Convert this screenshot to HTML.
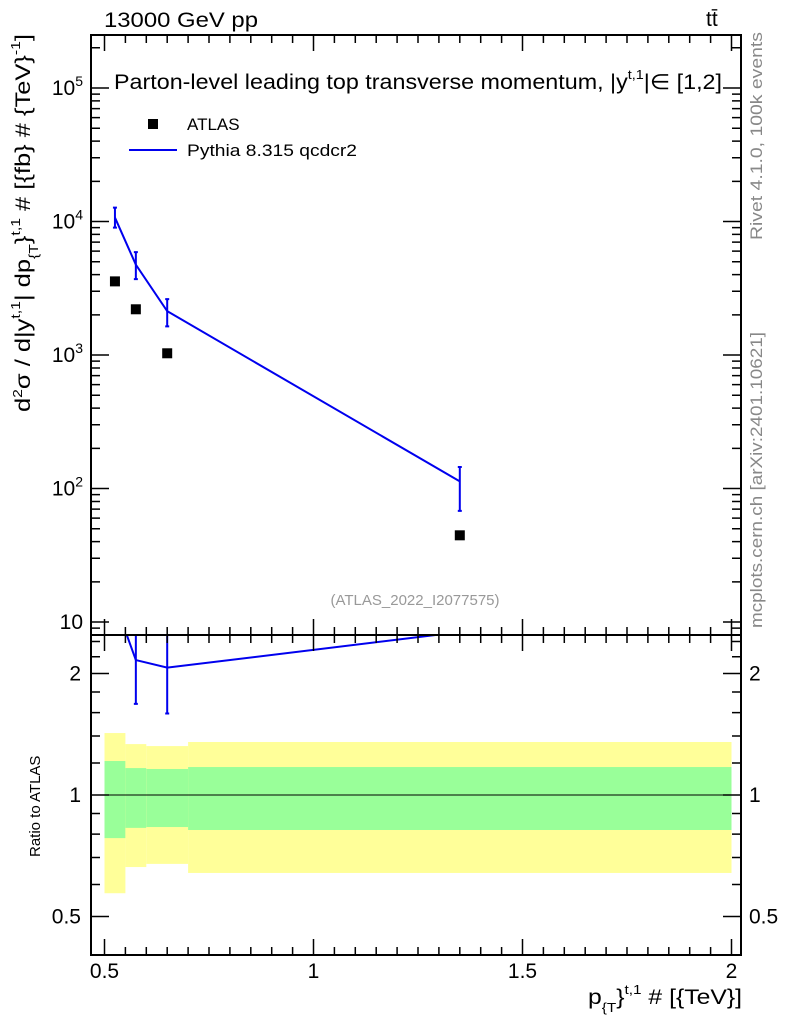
<!DOCTYPE html>
<html><head><meta charset="utf-8"><style>
body{margin:0;background:#fff;}
svg{display:block;font-family:"Liberation Sans",sans-serif;}
</style></head><body>
<svg id="c" width="786" height="1024"></svg>
<script>
const xEdges=[0.5,0.55,0.6,0.7,2.0];
const xCenters=[0.525,0.575,0.65,1.35];
const dataVals=[3560,2200,1030,44.6];
const mcVals=[10700,4750,2130,113];
const mcUp=[12700,5900,2620,145];
const mcDn=[9000,3700,1640,68];
const yellowHi=[1.424,1.337,1.322,1.353];
const yellowLo=[0.571,0.663,0.675,0.641];
const greenHi=[1.214,1.166,1.160,1.173];
const greenLo=[0.782,0.829,0.833,0.819];
const xTicks=[0.5,1,1.5,2];
const xTickLabels=["0.5","1","1.5","2"];
const yDecades=[1,2,3,4,5];
const rTicks=[0.5,1,2];
const rTickLabels=["0.5","1","2"];

const NS="http://www.w3.org/2000/svg";
const svg=document.getElementById('c');
const L=91,R=741,T=35,MB=635,RB=955;
const X=v=>104.5+(v-0.5)*418;
const Y=v=>88+(5-Math.log10(v))*133.5;
const RY=v=>795-Math.log2(v)*121.5;
function el(tag,a,parent){const e=document.createElementNS(NS,tag);for(const k in a)e.setAttribute(k,a[k]);(parent||svg).appendChild(e);return e;}
function txt(s,a,parent){const e=el('text',a,parent);e.textContent=s;return e;}

const clipR=el('clipPath',{id:'cr'});el('rect',{x:L,y:MB,width:R-L,height:RB-MB},clipR);
const clipM=el('clipPath',{id:'cm'});el('rect',{x:L,y:T,width:R-L,height:MB-T},clipM);
for(let i=0;i<xCenters.length;i++){
  const x0=X(xEdges[i]),x1=X(xEdges[i+1]);
  const y=el('rect',{x:x0,y:RY(yellowHi[i]),width:x1-x0,height:RY(yellowLo[i])-RY(yellowHi[i]),fill:'#ffff99'});
  
  
  const g=el('rect',{x:x0,y:RY(greenHi[i]),width:x1-x0,height:RY(greenLo[i])-RY(greenHi[i]),fill:'#99ff99'});
  
  
}
el('line',{x1:L,x2:R,y1:RY(1),y2:RY(1),stroke:'#000','stroke-width':1});

const gm=el('g',{'clip-path':'url(#cm)'});
const ml=el('polyline',{points:xCenters.map((x,i)=>X(x)+','+Y(mcVals[i])).join(' '),fill:'none',stroke:'#0000ee','stroke-width':2},gm);


for(let i=0;i<xCenters.length;i++){
  const x=X(xCenters[i]);
  const e=el('path',{d:`M${x},${Y(mcUp[i])}V${Y(mcDn[i])}M${x-2},${Y(mcUp[i])}h4M${x-2},${Y(mcDn[i])}h4`,stroke:'#0000ee','stroke-width':2,fill:'none'},gm);
  
  
  const d=el('rect',{x:X(xCenters[i])-5,y:Y(dataVals[i])-5,width:10,height:10,fill:'#000'},gm);
  
  
}
const gr=el('g',{'clip-path':'url(#cr)'});
const rl=el('polyline',{points:xCenters.map((x,i)=>X(x)+','+RY(mcVals[i]/dataVals[i])).join(' '),fill:'none',stroke:'#0000ee','stroke-width':2},gr);


for(let i=0;i<xCenters.length;i++){
  const c=RY(mcVals[i]/dataVals[i]);
  if(c<MB||c>RB)continue;
  const x=X(xCenters[i]),a=RY(mcUp[i]/dataVals[i]),b=RY(mcDn[i]/dataVals[i]);
  const e=el('path',{d:`M${x},${a}V${b}M${x-2},${b}h4`,stroke:'#0000ee','stroke-width':2,fill:'none'},gr);
  
  
}

el('rect',{x:L,y:T,width:R-L,height:RB-T,fill:'none',stroke:'#000','stroke-width':2});
el('line',{x1:L,x2:R,y1:MB,y2:MB,stroke:'#000','stroke-width':2});
let tp='';
for(let k=0;k<=30;k++){const v=0.5+k*0.05;const x=X(v);const l=(k%10==0)?16:8;
  tp+=`M${x},${T}v${l}M${x},${MB}v${-l}M${x},${MB}v${l}M${x},${RB}v${-l}`;}
for(let d=0;d<=5;d++)for(let m=1;m<10;m++){const v=m*Math.pow(10,d);const y=Y(v);if(y<T||y>MB)continue;const l=m==1?18:9;tp+=`M${L},${y}h${l}M${R},${y}h${-l}`;}
for(const v of [0.5,0.6,0.7,0.8,0.9,1,1.2,1.4,1.6,1.8,2,2.2,2.4]){const y=RY(v);if(y<MB||y>RB)continue;const l=[0.5,1,2].includes(v)?18:9;tp+=`M${L},${y}h${l}M${R},${y}h${-l}`;}
el('path',{d:tp,stroke:'#000','stroke-width':1.5,fill:'none'});

xTicks.forEach((v,i)=>{const t=txt(xTickLabels[i],{x:X(v),y:978,'font-size':21,'text-anchor':'middle'});});
yDecades.forEach((d,i)=>{const y=Y(Math.pow(10,d));const t=el('text',{x:L-8,y:y+7,'font-size':21,'text-anchor':'end'});
  
  t.innerHTML= d==1?'10':'10<tspan dy="-9" font-size="14">'+d+'</tspan>';});
rTicks.forEach((v,i)=>{
  const t=txt(rTickLabels[i],{x:L-10,y:RY(v)+7,'font-size':21,'text-anchor':'end'});
  const t2=txt(rTickLabels[i],{x:R+8,y:RY(v)+7,'font-size':21});});
</script>
<svg width="786" height="1024" style="position:absolute;left:0;top:0;font-family:'Liberation Sans',sans-serif">
<text x="104" y="27" font-size="21" textLength="154" lengthAdjust="spacingAndGlyphs">13000 GeV pp</text>
<text x="706" y="26" font-size="21">tt̄</text>
<text x="114" y="89" font-size="21" textLength="608" lengthAdjust="spacingAndGlyphs">Parton-level leading top transverse momentum, |y<tspan dy="-10" font-size="13">t,1</tspan><tspan dy="10">|∈ [1,2]</tspan></text>
<rect x="148" y="119" width="10" height="10" fill="#000"/>
<text x="187" y="130" font-size="17">ATLAS</text>
<line x1="129" x2="177" y1="150" y2="150" stroke="#0000ee" stroke-width="2"/>
<text x="187" y="156" font-size="17" textLength="170" lengthAdjust="spacingAndGlyphs">Pythia 8.315 qcdcr2</text>
<text x="415" y="605" font-size="15" fill="#999" text-anchor="middle">(ATLAS_2022_I2077575)</text>
<text transform="translate(762,240) rotate(-90)" font-size="17" fill="#888" textLength="208" lengthAdjust="spacingAndGlyphs">Rivet 4.1.0,  100k events</text>
<text transform="translate(762,628) rotate(-90)" font-size="17" fill="#888" textLength="296" lengthAdjust="spacingAndGlyphs">mcplots.cern.ch [arXiv:2401.10621]</text>
<text transform="translate(30,412) rotate(-90)" font-size="21" textLength="378" lengthAdjust="spacingAndGlyphs">d<tspan dy="-8" font-size="13">2</tspan><tspan dy="8">σ / d|y</tspan><tspan dy="-10" font-size="13">t,1</tspan><tspan dy="10">| dp</tspan><tspan dy="8" font-size="13">{T</tspan><tspan dy="-8">}</tspan><tspan dy="-10" font-size="13">t,1</tspan><tspan dy="10"> # [{fb} # {TeV}</tspan><tspan dy="-10" font-size="13">-1</tspan><tspan dy="10">]</tspan></text>
<text transform="translate(40,857) rotate(-90)" font-size="15">Ratio to ATLAS</text>
<text x="588" y="1004" font-size="21" textLength="154" lengthAdjust="spacingAndGlyphs">p<tspan dy="8" font-size="13">{T</tspan><tspan dy="-8">}</tspan><tspan dy="-10" font-size="13">t,1</tspan><tspan dy="10"> # [{TeV}]</tspan></text>
</svg>
</body></html>
